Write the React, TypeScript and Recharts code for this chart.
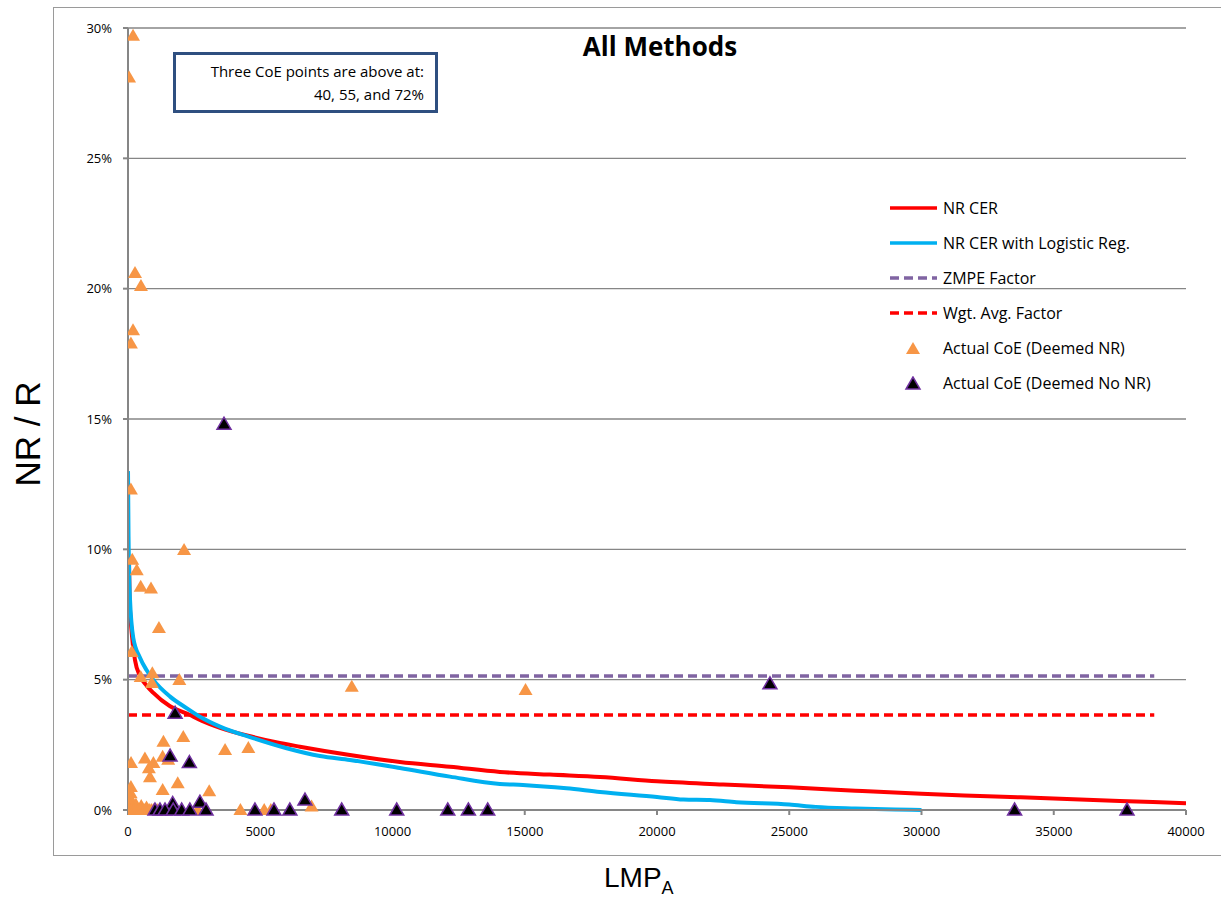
import { ComposedChart, Line, Scatter, XAxis, YAxis, CartesianGrid } from 'recharts'

// LMP_A on x, NR/R in percent on y
const xTicks = [0, 5000, 10000, 15000, 20000, 25000, 30000, 35000, 40000]
const yTicks = [0, 5, 10, 15, 20, 25, 30]

const nrCer = [
  { x: 40, y: 9.5 }, { x: 60, y: 8.1 }, { x: 140, y: 6.8 }, { x: 265, y: 5.75 }, { x: 450, y: 5.15 },
  { x: 700, y: 4.78 }, { x: 950, y: 4.5 }, { x: 1590, y: 3.98 }, { x: 2230, y: 3.7 }, { x: 2800, y: 3.42 },
  { x: 3480, y: 3.15 }, { x: 4730, y: 2.8 }, { x: 5600, y: 2.6 }, { x: 6500, y: 2.43 }, { x: 8390, y: 2.11 },
  { x: 10280, y: 1.84 }, { x: 12170, y: 1.66 }, { x: 14060, y: 1.46 }, { x: 15950, y: 1.36 }, { x: 17850, y: 1.27 },
  { x: 20000, y: 1.1 }, { x: 22500, y: 0.98 }, { x: 25000, y: 0.87 }, { x: 27500, y: 0.74 }, { x: 30000, y: 0.62 },
  { x: 32500, y: 0.53 }, { x: 35000, y: 0.44 }, { x: 37500, y: 0.35 }, { x: 40000, y: 0.26 },
]

const nrCerLogit = [
  { x: 0, y: 13.0 }, { x: 20, y: 10.5 }, { x: 75, y: 8.1 }, { x: 200, y: 6.6 }, { x: 450, y: 5.85 },
  { x: 700, y: 5.37 }, { x: 950, y: 5.0 }, { x: 1590, y: 4.35 }, { x: 2230, y: 3.9 }, { x: 2720, y: 3.58 },
  { x: 3480, y: 3.2 }, { x: 4730, y: 2.76 }, { x: 6000, y: 2.37 }, { x: 7260, y: 2.07 }, { x: 8390, y: 1.92 },
  { x: 10280, y: 1.61 }, { x: 12170, y: 1.28 }, { x: 14060, y: 1.0 }, { x: 14930, y: 0.96 }, { x: 16580, y: 0.83 },
  { x: 17850, y: 0.69 }, { x: 20000, y: 0.5 }, { x: 21000, y: 0.4 }, { x: 22000, y: 0.38 }, { x: 23000, y: 0.3 },
  { x: 25000, y: 0.21 }, { x: 26000, y: 0.12 }, { x: 27500, y: 0.06 }, { x: 29000, y: 0.02 }, { x: 30000, y: 0 },
]

const zmpe = [{ x: 0, y: 5.14 }, { x: 38800, y: 5.14 }]
const wgtAvg = [{ x: 0, y: 3.64 }, { x: 38800, y: 3.64 }]

const deemedNr = [
  { x: 190, y: 29.7 }, { x: 40, y: 28.1 }, { x: 265, y: 20.6 }, { x: 490, y: 20.1 }, { x: 190, y: 18.4 },
  { x: 110, y: 17.9 }, { x: 110, y: 12.3 }, { x: 2120, y: 9.97 }, { x: 160, y: 9.6 }, { x: 330, y: 9.2 },
  { x: 480, y: 8.56 }, { x: 870, y: 8.5 }, { x: 1170, y: 6.98 }, { x: 140, y: 6.06 }, { x: 480, y: 5.1 },
  { x: 920, y: 5.25 }, { x: 900, y: 4.87 }, { x: 1940, y: 4.99 }, { x: 8460, y: 4.73 }, { x: 15030, y: 4.6 },
  { x: 1340, y: 2.62 }, { x: 2090, y: 2.8 }, { x: 3670, y: 2.3 }, { x: 4550, y: 2.38 }, { x: 115, y: 1.8 },
  { x: 640, y: 1.98 }, { x: 960, y: 1.8 }, { x: 1310, y: 2.04 }, { x: 1520, y: 1.93 }, { x: 790, y: 1.6 },
  { x: 830, y: 1.26 }, { x: 1880, y: 1.03 }, { x: 1310, y: 0.77 }, { x: 3070, y: 0.72 }, { x: 110, y: 0.88 },
  { x: 100, y: 0.64 }, { x: 80, y: 0.45 }, { x: 40, y: 0.26 }, { x: 20, y: 0.1 }, { x: 300, y: 0.2 },
  { x: 500, y: 0.15 }, { x: 700, y: 0.1 }, { x: 0, y: 0 }, { x: 60, y: 0 }, { x: 150, y: 0 },
  { x: 230, y: 0 }, { x: 310, y: 0 }, { x: 400, y: 0 }, { x: 480, y: 0 }, { x: 560, y: 0 },
  { x: 640, y: 0 }, { x: 720, y: 0 }, { x: 800, y: 0 }, { x: 880, y: 0 }, { x: 960, y: 0 },
  { x: 1100, y: 0 }, { x: 2630, y: 0 }, { x: 4250, y: 0 }, { x: 5150, y: 0 }, { x: 5400, y: 0 },
  { x: 6940, y: 0.13 },
]

const deemedNoNr = [
  { x: 3630, y: 14.8 }, { x: 24270, y: 4.84 }, { x: 1780, y: 3.71 }, { x: 1590, y: 2.07 }, { x: 2320, y: 1.82 },
  { x: 2720, y: 0.3 }, { x: 1690, y: 0.25 }, { x: 6690, y: 0.38 }, { x: 1020, y: 0 }, { x: 1210, y: 0 },
  { x: 1400, y: 0 }, { x: 1710, y: 0 }, { x: 2030, y: 0 }, { x: 2340, y: 0 }, { x: 2950, y: 0 },
  { x: 4800, y: 0 }, { x: 5520, y: 0 }, { x: 6120, y: 0 }, { x: 8080, y: 0 }, { x: 10160, y: 0 },
  { x: 12090, y: 0 }, { x: 12870, y: 0 }, { x: 13600, y: 0 }, { x: 33520, y: 0 }, { x: 37770, y: 0 },
]

const ORANGE = '#F79646'
const CYAN = '#00B0F0'
const PURPLE = '#8064A2'
const RED = '#FF0000'
const GRID = '#868686'
const FONT = '"Open Sans", Lato, sans-serif'

const tri = (fill: string, stroke?: string) => (props: any) => {
  const { cx, cy } = props
  if (cx == null || cy == null) return <g />
  return (
    <polygon
      points={`${cx},${cy - 7} ${cx - 7},${cy + 5} ${cx + 7},${cy + 5}`}
      fill={fill}
      stroke={stroke || 'none'}
      strokeWidth={stroke ? 1.5 : 0}
    />
  )
}

const legendItems = [
  { label: 'NR CER', kind: 'line', color: RED },
  { label: 'NR CER with Logistic Reg.', kind: 'line', color: CYAN },
  { label: 'ZMPE Factor', kind: 'dash', color: PURPLE },
  { label: 'Wgt. Avg. Factor', kind: 'dash', color: RED },
  { label: 'Actual CoE (Deemed NR)', kind: 'tri', color: ORANGE },
  { label: 'Actual CoE (Deemed No NR)', kind: 'tri', color: '#000', stroke: '#7030A0' },
]

function LegendBox() {
  return (
    <div style={{ position: 'absolute', left: 888, top: 190, fontFamily: FONT, fontSize: 16, color: '#000' }}>
      {legendItems.map((it) => (
        <div key={it.label} style={{ display: 'flex', alignItems: 'center', height: 35 }}>
          <svg width={55} height={14} style={{ flex: 'none' }}>
            {it.kind === 'tri' ? (
              <polygon points="25,1 18,13 32,13" fill={it.color} stroke={it.stroke || 'none'} strokeWidth={it.stroke ? 1.5 : 0} />
            ) : (
              <line x1={2} y1={7} x2={49} y2={7} stroke={it.color} strokeWidth={3.5} strokeDasharray={it.kind === 'dash' ? '9 5' : undefined} />
            )}
          </svg>
          <span>{it.label}</span>
        </div>
      ))}
    </div>
  )
}

export default function App() {
  return (
    <div style={{ position: 'absolute', left: 0, top: 0, width: 1221, height: 901, overflow: 'hidden', background: '#fff' }}>
      <div style={{ position: 'absolute', left: 53, top: 7, width: 1200, height: 847, border: '1px solid #9a9a9a' }} />
      <ComposedChart width={1221} height={901} margin={{ top: 28, right: 35, left: 0, bottom: 0 }} style={{ position: 'absolute', left: 0, top: 0 }}>
        <CartesianGrid horizontal vertical={false} stroke={GRID} strokeWidth={1.3} />
        <XAxis
          type="number"
          dataKey="x"
          domain={[0, 40000]}
          ticks={xTicks}
          height={91}
          stroke={GRID}
          strokeWidth={2}
          tickSize={5}
          tickMargin={12}
          tick={{ fontSize: 13, fontFamily: FONT, fill: '#000' }}
          allowDataOverflow
        />
        <YAxis
          type="number"
          dataKey="y"
          domain={[0, 30]}
          ticks={yTicks}
          width={128}
          stroke={GRID}
          strokeWidth={2}
          tickSize={5}
          tickMargin={11}
          tickFormatter={(v) => `${v}%`}
          tick={{ fontSize: 13, fontFamily: FONT, fill: '#000' }}
        />
        <Line data={zmpe} dataKey="y" stroke={PURPLE} strokeWidth={3.5} strokeDasharray="9 5" dot={false} isAnimationActive={false} />
        <Line data={wgtAvg} dataKey="y" stroke={RED} strokeWidth={3.5} strokeDasharray="9 5" dot={false} isAnimationActive={false} />
        <Line data={nrCer} dataKey="y" type="monotone" stroke={RED} strokeWidth={4} dot={false} isAnimationActive={false} />
        <Line data={nrCerLogit} dataKey="y" type="monotone" stroke={CYAN} strokeWidth={4} dot={false} isAnimationActive={false} />
        <Scatter data={deemedNr} dataKey="y" shape={tri(ORANGE)} isAnimationActive={false} />
        <Scatter data={deemedNoNr} dataKey="y" shape={tri('#000', '#7030A0')} isAnimationActive={false} />
      </ComposedChart>

      <LegendBox />
      <div style={{ position: 'absolute', left: 510, top: 28, width: 300, textAlign: 'center', fontFamily: FONT, fontWeight: 700, fontSize: 26, color: '#000' }}>
        All Methods
      </div>
      <div
        style={{
          position: 'absolute', left: 173, top: 52, width: 259, height: 55, border: '3px solid #2F4F80',
          background: '#fff', fontFamily: FONT, fontSize: 15, textAlign: 'right', lineHeight: '23px', boxSizing: 'content-box',
        }}
      >
        <div style={{ paddingRight: 11, paddingTop: 5, whiteSpace: 'nowrap' }}>
          Three CoE points are above at:
          <br />
          40, 55, and 72%
        </div>
      </div>
      <div
        style={{
          position: 'absolute', left: 28, top: 434, transform: 'translate(-50%, -50%) rotate(-90deg)',
          fontFamily: '"Liberation Sans", Arial, sans-serif', fontSize: 35, whiteSpace: 'nowrap',
        }}
      >
        NR / R
      </div>
      <div style={{ position: 'absolute', left: 604, top: 862, fontFamily: '"Liberation Sans", Arial, sans-serif', fontSize: 28, whiteSpace: 'nowrap' }}>
        LMP<sub style={{ fontSize: 18 }}>A</sub>
      </div>
    </div>
  )
}
